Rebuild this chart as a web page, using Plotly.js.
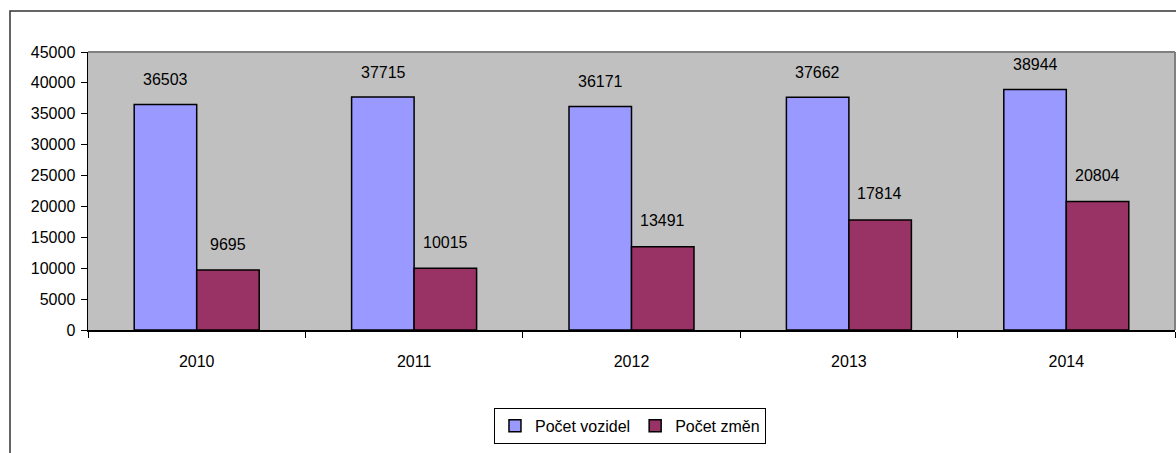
<!DOCTYPE html>
<html>
<head>
<meta charset="utf-8">
<script src="https://cdn.plot.ly/plotly-3.0.1.min.js"></script>
<style>
html,body{margin:0;padding:0;background:#fff;}
#chart{width:1176px;height:453px;}
</style>
</head>
<body>
<div id="chart"></div>
<script>
const years = ["2010", "2011", "2012", "2013", "2014"];
const vehicles = [36503, 37715, 36171, 37662, 38944];
const changes = [9695, 10015, 13491, 17814, 20804];
const seriesNames = ["Počet vozidel", "Počet změn"];
const yTicks = [0, 5000, 10000, 15000, 20000, 25000, 30000, 35000, 40000, 45000];

const FONT = "Liberation Sans, Arial, sans-serif";
const FS = 16;

const traces = [
  {type: "bar", name: seriesNames[0], x: years, y: vehicles,
   marker: {color: "#9999FF", line: {color: "#000000", width: 1.5}}},
  {type: "bar", name: seriesNames[1], x: years, y: changes,
   marker: {color: "#993366", line: {color: "#000000", width: 1.5}}}
];

const annotations = [];
years.forEach((yr, i) => {
  annotations.push({x: i, y: vehicles[i], xref: "x", yref: "y", text: String(vehicles[i]),
    showarrow: false, xshift: -31, yshift: 25, yanchor: "middle",
    font: {family: FONT, size: FS, color: "#000"}});
  annotations.push({x: i, y: changes[i], xref: "x", yref: "y", text: String(changes[i]),
    showarrow: false, xshift: 31, yshift: 26, yanchor: "middle",
    font: {family: FONT, size: FS, color: "#000"}});
});

const W = 1087, H = 278;
const layout = {
  width: 1176, height: 453,
  margin: {l: 88, r: 1, t: 52, b: 123, pad: 0},
  paper_bgcolor: "#ffffff",
  plot_bgcolor: "#C0C0C0",
  barmode: "group",
  bargap: 0.425,
  bargroupgap: 0,
  font: {family: FONT, size: FS, color: "#000"},
  xaxis: {
    type: "category",
    range: [-0.5, 4.5],
    autorange: false,
    showline: true, linecolor: "#000", linewidth: 1.5,
    ticks: "outside", ticklen: 6, tickcolor: "#000", tickwidth: 1,
    tickson: "boundaries",
    ticklabelstandoff: 16,
    tickangle: 0,
    showgrid: false, zeroline: false,
    tickfont: {family: FONT, size: FS, color: "#000"}
  },
  yaxis: {
    range: [0, 45000],
    autorange: false,
    tickvals: yTicks,
    ticktext: yTicks.map(String),
    showline: true, linecolor: "#000", linewidth: 1.5,
    ticks: "outside", ticklen: 6, tickcolor: "#000", tickwidth: 1,
    ticklabelstandoff: 2,
    showgrid: false, zeroline: false,
    tickfont: {family: FONT, size: FS, color: "#000"}
  },
  showlegend: true,
  legend: {
    orientation: "h",
    x: 0.4986, xanchor: "center",
    y: -0.28, yanchor: "top",
    bordercolor: "#000", borderwidth: 1,
    bgcolor: "#fff",
    font: {family: FONT, size: 16, color: "#000"},
    itemwidth: 30,
    tracegroupgap: 0,
    traceorder: "normal"
  },
  shapes: [
    {type: "line", xref: "paper", yref: "paper", x0: 0, x1: 1, y0: 1, y1: 1,
     line: {color: "#808080", width: 2}},
    {type: "line", xref: "paper", yref: "paper", x0: 1, x1: 1, y0: 0, y1: 1,
     line: {color: "#808080", width: 2}},
    {type: "rect", xref: "paper", yref: "paper",
     x0: (10 - 88) / W, x1: (1200 - 88) / W,
     y0: (330 - 470) / H, y1: (330 - 11) / H,
     line: {color: "#333", width: 1.5}, fillcolor: "rgba(0,0,0,0)", layer: "above"}
  ],
  annotations: annotations
};

Plotly.newPlot("chart", traces, layout, {displayModeBar: false, staticPlot: true});
</script>
</body>
</html>
